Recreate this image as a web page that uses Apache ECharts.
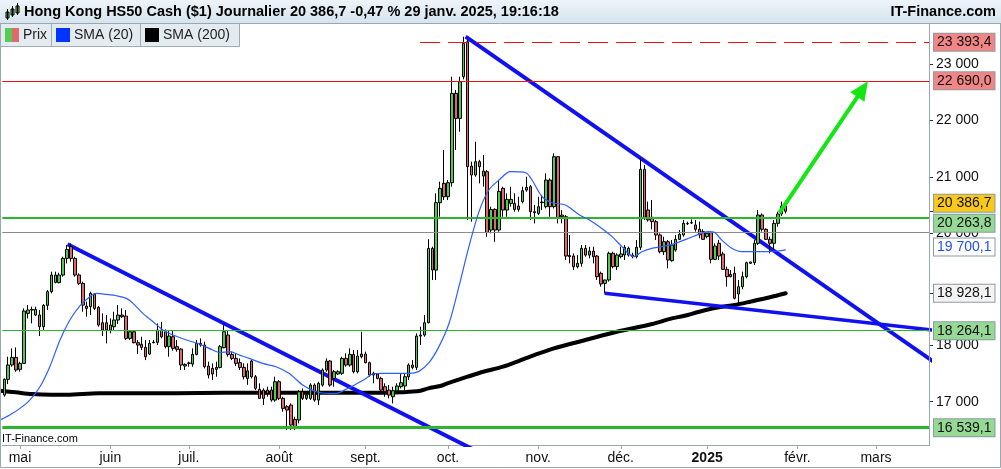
<!DOCTYPE html>
<html><head><meta charset="utf-8">
<script src="https://cdn.jsdelivr.net/npm/echarts@6/dist/echarts.min.js"></script>
<style>html,body{margin:0;padding:0;background:#fff}#c{width:1001px;height:469px}</style>
</head><body><div id="c"></div>
<script>
// ---------- DATA ----------
const startDate = '2024-04-25';
const slotCount = 236;
const monthTicks = [['2024-05-01','mai'],['2024-06-03','juin'],['2024-07-01','juil.'],['2024-08-01','août'],['2024-09-02','sept.'],['2024-10-01','oct.'],['2024-11-01','nov.'],['2024-12-02','déc.'],['2025-01-01','2025'],['2025-02-03','févr.'],['2025-03-03','mars']];
const yTickLabels = [17000,18000,20000,21000,22000,23000];

const open = [17119,17398,17653,17789,17576,17682,18571,18630,18542,18542,
18334,18713,18957,19122,19117,19253,19549,19757,19549,19253,
19105,18702,18690,18915,18678,18405,18405,18275,18334,18453,
18542,18524,18127,18245,18050,18020,17967,17848,18050,18056,
18275,18245,17979,18156,17979,17937,17664,17682,17670,17842,
18038,18008,17635,17593,17576,17611,17961,18186,17842,17771,
17694,17611,17415,17724,17445,17220,17208,17208,17208,17030,
17356,17060,16912,16941,16686,16675,17178,17060,17060,17297,
17030,17297,17564,17724,17415,17493,17505,17771,17653,17842,
17534,17801,17848,17694,17505,17493,17415,17267,17208,17089,
17195,17267,17280,17445,17653,17611,18168,18186,18405,19727,
19342,20539,20883,20645,20894,22483,22038,22779,23402,21191,
21031,21268,21013,21090,20053,20420,20053,20794,20408,20527,
20527,20420,20557,20764,20823,20379,20349,20540,20468,20942,
20468,21357,20320,20290,19602,19591,19401,19460,19727,19608,
19679,19591,19283,19105,19165,19639,19402,19580,19609,19609,
19609,19580,19746,21132,20409,20279,20202,19965,19668,19846,
19508,19698,19888,19965,20165,20184,20143,20066,20024,19935,
20006,19532,19817,19627,19354,19265,19283,18916,19046,19224,
19461,19473,19817,20320,20066,19888,19817,20172,20338,20480];
const close = [17398,17653,17789,17564,17682,18613,18631,18640,18642,18334,
18713,18957,19253,19253,19253,19549,19709,19549,19253,19105,
18719,18660,18927,18660,18364,18275,18275,18364,18453,18542,
18512,18127,18245,18050,18008,17967,17801,18038,18060,18275,
18156,17979,18168,17949,17931,17653,17635,17690,17842,18038,
18008,17623,17475,17493,17611,17979,18245,17842,17771,17682,
17611,17445,17550,17445,17238,17060,17060,17149,17030,17356,
17060,16882,16852,16586,16556,17178,17060,17119,17297,17030,
17327,17564,17724,17297,17534,17534,17771,17653,17842,17534,
17813,17848,17694,17475,17475,17415,17208,17178,17119,17195,
17280,17338,17445,17653,17611,18168,18186,18405,19727,19342,
20539,20794,20645,20894,22483,22038,22690,23372,21179,21031,
21268,21179,21102,20011,20420,20053,20740,20408,20598,20598,
20420,20480,20752,20811,20379,20361,20468,20550,20942,20468,
21357,20260,20290,19591,19579,19401,19460,19727,19608,19679,
19579,19223,19094,19165,19639,19402,19609,19627,19746,19728,
19580,19746,21132,20279,20232,20202,19965,19668,19846,19520,
19787,19888,19977,20172,20172,20178,20066,19965,19888,19994,
19532,19769,19591,19354,19224,19224,18839,19046,19224,19473,
19485,19817,20320,20066,19888,19817,20172,20338,20480,20386.7];
const low = [17089,17315,17623,17534,17534,17682,18482,18393,18524,18168,
18275,18631,18927,19105,19105,19223,19460,19490,19223,19075,
18601,18512,18542,18631,18334,18168,18038,18216,18275,18382,
18490,18097,18097,18038,17848,17919,17741,17830,18038,18008,
18127,17949,17801,17907,17890,17564,17564,17623,17623,17825,
17979,17593,17415,17386,17445,17593,17949,17801,17741,17635,
17564,17398,17300,17415,17208,17060,16941,17089,17001,17001,
17030,16823,16497,16497,16497,16615,17030,17030,17030,17001,
16941,17267,17534,17267,17267,17475,17475,17623,17623,17505,
17505,17771,17682,17445,17327,17398,17178,17089,17060,16971,
17149,17238,17208,17386,17576,17564,18008,18156,18393,19164,
19164,20290,20586,20586,20823,21475,21801,22732,20231,20201,
21001,20883,20823,19934,19994,19845,20023,20290,20290,20468,
20379,20379,20527,20734,20231,20171,20320,20408,20438,20290,
20438,20171,20171,19519,19460,19342,19371,19401,19579,19549,
19460,19164,19046,18928,19135,19372,19342,19550,19520,19580,
19550,19550,19698,20232,20202,20066,19876,19639,19609,19372,
19491,19668,19876,19935,20143,20160,20024,19906,19876,19906,
19461,19520,19520,19342,19046,19212,18821,18720,18999,19194,
19449,19431,19787,20024,19876,19639,19698,20113,20303,20350];
const high = [17415,17801,17949,17967,17712,18660,18719,18690,18690,18631,
18737,18986,19312,19312,19294,19579,19786,19816,19579,19282,
19134,18780,18957,18927,18702,18571,18542,18482,18601,18719,
18660,18631,18275,18275,18097,18156,18097,18097,18097,18393,
18420,18287,18275,18275,18097,17949,17682,17712,17949,18097,
18127,18068,17712,17682,17712,18008,18364,18275,17890,17860,
17771,17682,17682,17741,17475,17327,17238,17267,17267,17445,
17386,17089,16941,16971,16734,17208,17238,17149,17327,17327,
17356,17593,17771,17741,17564,17560,17801,17860,17949,17919,
17919,18245,17890,17712,17534,17505,17445,17327,17297,17267,
17327,17504,17504,17682,17741,18216,18334,18542,19890,19756,
20705,20912,21475,20942,22779,22542,22779,23490,23431,21268,
21623,21300,21386,21120,20468,20440,20942,20823,20705,20823,
20705,20645,20823,21001,20853,20497,20645,20675,21060,20972,
21416,21369,20408,20320,19964,19638,19608,19786,19786,19756,
19756,19608,19313,19170,19668,19668,19639,19757,19787,19757,
19650,19876,21328,21209,20558,20587,20232,19994,19935,19876,
19876,19965,20054,20232,20202,20243,20232,20202,20066,20024,
20024,19817,19876,19668,19402,19342,19402,19165,19313,19491,
19491,19876,20409,20350,20083,19935,20232,20380,20558,20516];

// moving averages: [candle index, value]
const sma20 = [[-1.1,16675],[1.4,16764],[4,16882],[6.5,17030],[9.1,17267],[11.6,17623],[14.2,18097],[16.7,18453],[19.2,18702],[21.8,18868],[23.5,18927],[26,18909],[28.6,18885],[31.1,18838],[32.8,18749],[35.3,18571],[37.9,18423],[40.4,18275],[43,18186],[46.4,18097],[49.7,18026],[53.1,17919],[54.8,17878],[57.4,17890],[59.9,17830],[62.4,17771],[65.8,17682],[69.2,17623],[72.6,17504],[76,17297],[79.4,17178],[82.8,17149],[84.5,17149],[87,17220],[89.6,17315],[92.1,17415],[93.8,17493],[96.3,17504],[99.7,17504],[103.1,17504],[105.6,17540],[108.2,17700],[110.7,17980],[113.3,18400],[115.8,19050],[118.3,19750],[120.9,20380],[123.4,20764],[126,20942],[128.9,21090],[132.8,21072],[134.4,20942],[137,20645],[139.5,20539],[142.9,20497],[146.3,20330],[148.8,20240],[151.4,20120],[154.8,19935],[157.3,19757],[160.3,19580],[162.4,19668],[164.9,19728],[167.5,19757],[170.9,19817],[174.3,19906],[176.8,19977],[179.3,20024],[181,20006],[182.7,19876],[185.3,19728],[187.8,19668],[191.2,19668],[194.6,19668],[197.1,19680],[199,19700.1]];
const sma200 = [[-1,17196],[3,17167],[7,17137],[12,17125],[16,17125],[24,17149],[37,17149],[50,17155],[62,17161],[80,17161],[98,17161],[101,17167],[103,17178],[106,17196],[108,17238],[111,17279],[113,17330],[118,17445],[122,17534],[127,17623],[131,17724],[135,17831],[140,17950],[148,18098],[156,18245],[165,18382],[170,18483],[173,18524],[177,18601],[182,18679],[186,18720],[190,18779],[195,18857],[199,18928.1]];

// drawn annotations: [candle index, price]
const trendLine1 = [[16.1,19800],[125,15956]];
const trendLine2 = [[152.9,18928],[240,18247]];
const trendLine3 = [[117.5,23490],[240,17551]];
const arrowLine = [[197.4,20360],[218.6,22560]];
const resistanceDashed = {from: 105.9, value: 23393.4};
const levelRed = 22690.0;
const levelGreen = [20263.8, 18264.1, 16539.1];
const levelGray = 20018;
const lastClose = 20386.7, lastSma20 = 19700.1, lastSma200 = 18928.1;

// ---------- BUILD ----------
const FONT = "'Liberation Sans', Arial, sans-serif";
function fmt(v, dec){ const s = v.toFixed(dec).split('.'); const i = s[0].replace(/\B(?=(\d{3})+(?!\d))/g,' '); return dec ? i + ',' + s[1] : i; }
const dates = [];
{ let d = new Date(startDate + 'T00:00:00Z'); while (dates.length < slotCount) { const wd = d.getUTCDay(); if (wd !== 0 && wd !== 6) dates.push(d.toISOString().slice(0,10)); d = new Date(d.getTime() + 86400000); } }
const tickMap = {}; monthTicks.forEach(t => tickMap[t[0]] = t[1]);
const candles = dates.map((d, i) => i < open.length ? [open[i], close[i], low[i], high[i]] : '-');
const yMin = 16231, yMax = 23734;

function boxLabel(text, bg, color, dy){
  return {show:true, position:'end', distance:5, formatter:text, backgroundColor:bg, borderColor:'#8d9aa5', borderWidth:1,
    padding:[1,3,1,3], color:color, fontSize:14, fontFamily:FONT, lineHeight:15, offset:[0, dy||0]};
}
const transparent = 'rgba(0,0,0,0)';
const markData = [
  {yAxis: levelGray, lineStyle:{color:'#8a8a8a', width:1, type:'solid'}, label:{show:false}},
  {yAxis: levelRed, lineStyle:{color:'#ee1111', width:1, type:'solid'}, label: boxLabel(fmt(levelRed,1), '#f28686', '#111', -1)},
  [{coord:[resistanceDashed.from, resistanceDashed.value], lineStyle:{color:'#ee1111', width:1, type:[20,8]}, label: boxLabel(fmt(resistanceDashed.value,1), '#f28686', '#111', 0)},
   {coord:[235.5, resistanceDashed.value]}],
  {yAxis: levelGreen[0], lineStyle:{color:'#2db52d', width:2, type:'solid'}, label: boxLabel(fmt(levelGreen[0],1), '#95d995', '#111', 5)},
  {yAxis: levelGreen[1], lineStyle:{color:'#2db52d', width:1, type:'solid'}, label: boxLabel(fmt(levelGreen[1],1), '#95d995', '#111', 0)},
  {yAxis: levelGreen[2], lineStyle:{color:'#2db52d', width:3, type:'solid'}, label: boxLabel(fmt(levelGreen[2],1), '#95d995', '#111', 0)},
  {yAxis: lastClose, lineStyle:{color:transparent, width:1}, label: boxLabel(fmt(lastClose,1), '#f8c81c', '#111', -8)},
  {yAxis: lastSma20, lineStyle:{color:transparent, width:1}, label: boxLabel(fmt(lastSma20,1), '#ffffff', '#1f4cff', -3)},
  {yAxis: lastSma200, lineStyle:{color:transparent, width:1}, label: boxLabel(fmt(lastSma200,1), '#f3f3f3', '#111', 0)},
  [{coord: arrowLine[0], symbol:'none', lineStyle:{color:'#14e614', width:4, type:'solid'}, label:{show:false}},
   {coord: arrowLine[1], symbol:'triangle', symbolSize:[17,19]}]
];

const chart = echarts.init(document.getElementById('c'), null, {renderer:'canvas'});
const LG = new echarts.graphic.LinearGradient(0,0,0,1,[{offset:0,color:'#eef4f9'},{offset:1,color:'#d6e3ed'}]);
const option = {
  animation:false,
  grid:{left:2.3, right:72, top:23, bottom:24, containLabel:false},
  xAxis:[
    {type:'category', data:dates, boundaryGap:true,
     axisLine:{show:true, onZero:false, lineStyle:{color:'#9aa6b0'}},
     axisTick:{show:true, alignWithLabel:true, length:4, interval:(i,v)=>!!tickMap[v], lineStyle:{color:'#9aa6b0'}},
     axisLabel:{interval:(i,v)=>!!tickMap[v], formatter:v=> tickMap[v]==='2025' ? '{b|2025}' : (tickMap[v]||''), fontSize:14, fontFamily:FONT, color:'#111', margin:6,
       rich:{b:{fontWeight:'bold', fontSize:14, fontFamily:FONT, color:'#111'}}},
     splitLine:{show:false}},
    {type:'value', min:-0.5, max:slotCount-0.5, show:false, axisLine:{onZero:false}}
  ],
  yAxis:{type:'value', position:'right', min:yMin, max:yMax,
    axisLine:{show:true, onZero:false, lineStyle:{color:'#9aa6b0'}},
    axisTick:{show:true, length:4, customValues:[17000,18000,18928.1,20000,20386.7,21000,22000,23000], lineStyle:{color:'#333'}},
    axisLabel:{customValues:yTickLabels, formatter:v=>fmt(v,0), fontSize:14, fontFamily:FONT, color:'#111', margin:7},
    splitLine:{show:false}},
  series:[
    {type:'line', name:'levels', xAxisIndex:1, data:[], clip:false, silent:true,
     markLine:{silent:true, symbol:['none','none'], precision:1, data:markData, animation:false}},
    {type:'line', name:'SMA (200)', xAxisIndex:1, data:sma200, showSymbol:false, smooth:0.3, silent:true,
     lineStyle:{color:'#000', width:4, cap:'round'}, z:3},
    {type:'line', name:'T1', xAxisIndex:1, data:trendLine1, showSymbol:false, clip:true, silent:true, lineStyle:{color:'#1010f0', width:4}, z:3},
    {type:'line', name:'T2', xAxisIndex:1, data:trendLine2, showSymbol:false, clip:true, silent:true, lineStyle:{color:'#1010f0', width:3.5}, z:3},
    {type:'line', name:'T3', xAxisIndex:1, data:trendLine3, showSymbol:false, clip:true, silent:true, lineStyle:{color:'#1010f0', width:4}, z:3},
    {type:'candlestick', name:'Prix', xAxisIndex:0, data:candles, barWidth:3, silent:true,
     itemStyle:{color:'#4ccb4c', color0:'#e06868', borderColor:'#000', borderColor0:'#000', borderWidth:1}, z:4},
    {type:'line', name:'SMA (20)', xAxisIndex:1, data:sma20, showSymbol:false, smooth:0.3, silent:true,
     lineStyle:{color:'#2d5fff', width:1.2}, z:5}
  ],
  graphic:[
    {type:'rect', z:50, shape:{x:0,y:0,width:1001,height:23}, style:{fill:LG}},
    {type:'line', z:51, shape:{x1:0,y1:23.5,x2:1001,y2:23.5}, style:{stroke:'#9aa6b0', lineWidth:1}},
    // title icon
    {type:'rect', z:52, shape:{x:6,y:12,width:3,height:6}, style:{fill:'#4ccb4c', stroke:'#000', lineWidth:1}},
    {type:'line', z:52, shape:{x1:7.5,y1:9,x2:7.5,y2:20}, style:{stroke:'#000', lineWidth:1}},
    {type:'rect', z:52, shape:{x:11,y:9,width:3,height:6}, style:{fill:'#4ccb4c', stroke:'#000', lineWidth:1}},
    {type:'line', z:52, shape:{x1:12.5,y1:6,x2:12.5,y2:17}, style:{stroke:'#000', lineWidth:1}},
    {type:'rect', z:52, shape:{x:16,y:6,width:3,height:7}, style:{fill:'#9ad020', stroke:'#000', lineWidth:1}},
    {type:'line', z:52, shape:{x1:17.5,y1:3,x2:17.5,y2:15}, style:{stroke:'#000', lineWidth:1}},
    {type:'text', z:52, x:24, y:12, style:{text:'Hong Kong HS50 Cash ($1) Journalier 20 386,7 -0,47 % 29 janv. 2025, 19:16:18', font:"bold 14.5px 'Liberation Sans', Arial", fill:'#000', verticalAlign:'middle'}},
    {type:'text', z:52, x:996, y:12, style:{text:'IT-Finance.com', font:"bold 14.5px 'Liberation Sans', Arial", fill:'#000', align:'right', verticalAlign:'middle'}},
    // legend
    {type:'rect', z:50, shape:{x:0.5,y:23.5,width:51,height:23}, style:{fill:'#e3ebf1', stroke:'#a0abb4', lineWidth:1}},
    {type:'rect', z:50, shape:{x:51.5,y:23.5,width:89,height:23}, style:{fill:'#e3ebf1', stroke:'#a0abb4', lineWidth:1}},
    {type:'rect', z:50, shape:{x:140.5,y:23.5,width:99,height:23}, style:{fill:'#e3ebf1', stroke:'#a0abb4', lineWidth:1}},
    {type:'rect', z:52, shape:{x:5,y:28,width:7,height:14}, style:{fill:'#55cc55'}},
    {type:'rect', z:52, shape:{x:12,y:28,width:7,height:14}, style:{fill:'#e06a6a'}},
    {type:'rect', z:52, shape:{x:56,y:28,width:14,height:14}, style:{fill:'#0033ff'}},
    {type:'rect', z:52, shape:{x:145,y:28,width:14,height:14}, style:{fill:'#000'}},
    {type:'text', z:52, x:23, y:35.5, style:{text:'Prix', font:"14px 'Liberation Sans', Arial", fill:'#222', verticalAlign:'middle'}},
    {type:'text', z:52, x:74, y:35.5, style:{text:'SMA (20)', font:"14px 'Liberation Sans', Arial", fill:'#222', verticalAlign:'middle'}},
    {type:'text', z:52, x:163, y:35.5, style:{text:'SMA (200)', font:"14px 'Liberation Sans', Arial", fill:'#222', verticalAlign:'middle'}},
    // frames
    {type:'line', z:49, shape:{x1:0.5,y1:23,x2:0.5,y2:446}, style:{stroke:'#9aa6b0', lineWidth:1}},
    {type:'line', z:49, shape:{x1:929.5,y1:23,x2:929.5,y2:446}, style:{stroke:'#9aa6b0', lineWidth:1}},
    {type:'rect', z:49, shape:{x:0.5,y:0.5,width:1000,height:467}, style:{fill:'none', stroke:'#9aa6b0', lineWidth:1}},
    {type:'text', z:52, x:2, y:439, style:{text:'IT-Finance.com', font:"11px 'Liberation Sans', Arial", fill:'#000', verticalAlign:'middle'}}
  ]
};
chart.setOption(option);
</script></body></html>
